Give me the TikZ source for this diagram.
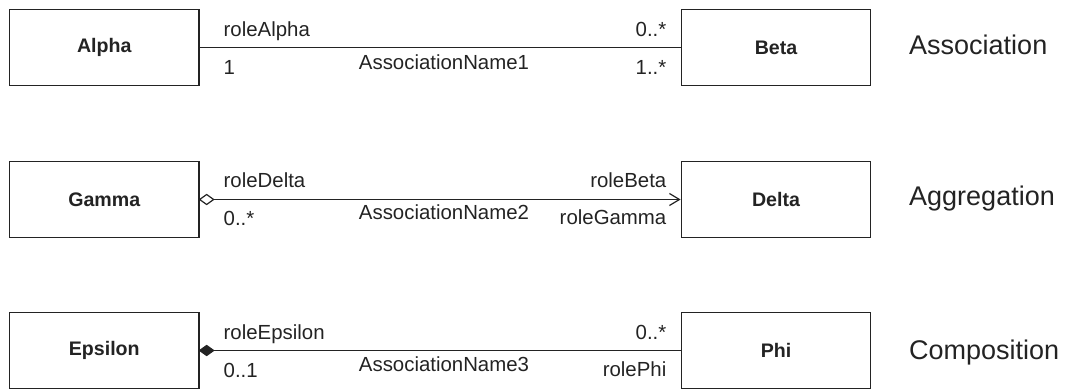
\documentclass[tikz,border=0pt]{standalone}
\usepackage{fontspec}
\setmainfont{Liberation Sans}
\usetikzlibrary{arrows.meta}
\definecolor{ink}{RGB}{35,35,35}
\tikzset{
  cls/.style={draw=ink, line width=1.3pt, minimum width=189.5pt, minimum height=75.5pt, inner sep=0pt, font=\fontsize{19.6}{23}\selectfont\bfseries, text=ink},
  lbl/.style={inner sep=0pt, font=\fontsize{20.4}{24}\selectfont, text=ink},
  kind/.style={inner sep=0pt, font=\fontsize{27}{32}\selectfont, text=ink, anchor=base west},
  assoc/.style={draw=ink, line width=1.2pt},
  dia/.style={draw=ink, line width=1.2pt, line join=miter},
}
\begin{document}
\begin{tikzpicture}[x=1pt,y=-1pt]
\useasboundingbox (0,0) rectangle (1081,388);
% classes
\node[cls] (Alpha) at (104.25,47.5) {Alpha};
\node[cls] (Beta) at (776,47.5) {Beta};
\node[cls] (Gamma) at (104.25,199.5) {Gamma};
\node[cls] (Delta) at (776,199.5) {Delta};
\node[cls] (Epsilon) at (104.25,350.5) {Epsilon};
\node[cls] (Phi) at (776,350.5) {Phi};
% connectors
\draw[assoc] (Alpha.east) -- (Beta.west);
\coordinate (gd) at ([xshift=14pt]Gamma.east);
\coordinate (ed) at ([xshift=14pt]Epsilon.east);
\draw[assoc, -{Straight Barb[length=10pt, width=12pt, line width=1.2pt]}] (gd) -- (Delta.west);
\draw[dia, fill=white] (Gamma.east) -- ++(7,-5) -- (gd) -- ++(-7,5) -- cycle;
\draw[assoc] (ed) -- (Phi.west);
\draw[dia, fill=ink] (Epsilon.east) -- ++(7,-5) -- (ed) -- ++(-7,5) -- cycle;
% row 1 labels
\node[lbl, anchor=base west] (r1a) at (223.5,36) {roleAlpha};
\node[lbl, anchor=base west] (r1b) at (223.5,74) {1};
\node[lbl, anchor=base] (r1n) at (444,69.5) {AssociationName1};
\node[lbl, anchor=base east] (r1c) at (666.5,36) {0..*};
\node[lbl, anchor=base east] (r1d) at (666.5,74) {1..*};
% row 2 labels
\node[lbl, anchor=base west] (r2a) at (223.5,187) {roleDelta};
\node[lbl, anchor=base west] (r2b) at (223.5,225) {0..*};
\node[lbl, anchor=base] (r2n) at (444,219.5) {AssociationName2};
\node[lbl, anchor=base east] (r2c) at (666.5,187) {roleBeta};
\node[lbl, anchor=base east] (r2d) at (666.5,224.5) {roleGamma};
% row 3 labels
\node[lbl, anchor=base west] (r3a) at (223.5,339.5) {roleEpsilon};
\node[lbl, anchor=base west] (r3b) at (223.5,377) {0..1};
\node[lbl, anchor=base] (r3n) at (444,371) {AssociationName3};
\node[lbl, anchor=base east] (r3c) at (666.5,339.5) {0..*};
\node[lbl, anchor=base east] (r3d) at (666.5,376.5) {rolePhi};
% kinds
\node[kind] (k1) at (909,54.5) {Association};
\node[kind] (k2) at (909,205.5) {Aggregation};
\node[kind] (k3) at (909,359) {Composition};
\end{tikzpicture}
\end{document}
